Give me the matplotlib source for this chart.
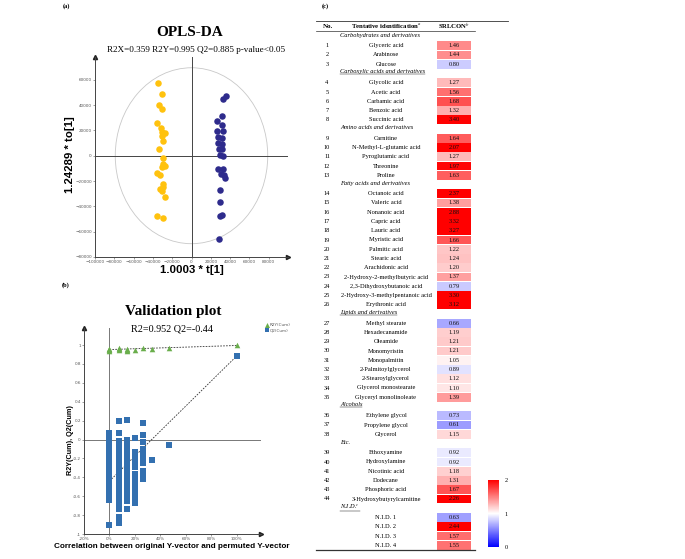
import numpy as np
import matplotlib
matplotlib.use("Agg")
import matplotlib.pyplot as plt
from matplotlib.patches import Ellipse
from matplotlib.colors import LinearSegmentedColormap, Normalize
from matplotlib.cm import ScalarMappable

plt.rcParams['mathtext.fontset'] = 'stix'
SERIF = 'Liberation Serif'
SANS = 'Liberation Sans'

# ---------------- data: OPLS-DA scores ----------------
srl_t = [-34500, -31000, -33800, -30300, -35500, -32100, -30300, -27900, -30700, -30000,
         -34100, -30000, -30000, -27900, -30300, -35500, -32800, -29700, -29300, -33100,
         -31000, -27900, -36200, -29300]
srl_to = [57100, 48900, 40300, 36600, 26100, 22100, 18700, 17900, 15300, 11600,
          5500, -1800, -6800, -7900, -9200, -13400, -15000, -22100, -24700, -26600,
          -27600, -32400, -47900, -48900]
con_t = [35500, 32400, 32100, 26900, 31400, 26900, 32400, 27600, 32100, 27600,
         32100, 28300, 31700, 30000, 32400, 27200, 32400, 30300, 33400, 34800,
         30000, 30000, 31700, 30000, 28300]
con_to = [47100, 44500, 31600, 27400, 24500, 19500, 19700, 14700, 13900, 10300,
          9500, 5500, 5000, 300, 0, -10300, -10300, -14700, -15000, -17400,
          -27400, -36800, -47100, -47900, -65800]

# ---------------- data: permutation validation ----------------
r2_x = [0, 0, 0, 0, 0.073, 0.073, 0.073, 0.135, 0.135, 0.135, 0.2, 0.266, 0.333, 0.466, 1.0]
r2_y = [0.94, 0.95, 0.955, 0.96, 0.95, 0.96, 0.97, 0.935, 0.95, 0.96, 0.95, 0.965, 0.96, 0.97, 0.995]
q2_col_x = [0, 0.073, 0.135, 0.2, 0.266, 0.333, 0.466, 1.0]
q2_col_y = [
    [0.07, 0.04, -0.02, -0.05, -0.08, -0.11, -0.14, -0.17, -0.2, -0.23, -0.26, -0.29, -0.32,
     -0.35, -0.38, -0.41, -0.44, -0.47, -0.5, -0.53, -0.56, -0.59, -0.64, -0.9],
    [0.2, 0.07, -0.02, -0.06, -0.1, -0.14, -0.18, -0.22, -0.26, -0.3, -0.34, -0.38, -0.42,
     -0.46, -0.5, -0.54, -0.58, -0.62, -0.66, -0.7, -0.74, -0.82, -0.85, -0.88],
    [0.21, -0.01, -0.05, -0.09, -0.13, -0.17, -0.21, -0.25, -0.29, -0.33, -0.37, -0.41,
     -0.45, -0.49, -0.53, -0.57, -0.61, -0.65, -0.74],
    [0.02, -0.13, -0.17, -0.21, -0.25, -0.29, -0.37, -0.41, -0.45, -0.49, -0.53, -0.57,
     -0.61, -0.67],
    [0.17, 0.05, -0.03, -0.1, -0.14, -0.18, -0.22, -0.25, -0.33, -0.36, -0.39, -0.42],
    [-0.22],
    [-0.06],
    [0.885],
]
r2_intercept, r2_end = 0.952, 0.995
q2_intercept, q2_end = -0.44, 0.885

# ---------------- data: table ----------------
groups = ["Carbohydrates and derivatives", "Carboxylic acids and derivatives",
          "Amino acids and derivatives", "Fatty acids and derivatives",
          "Lipids and derivatives", "Alcohols", "Etc.", "N.I.D."]
group_underline = [False, True, False, False, True, True, False, True]
group_sizes = [3, 5, 5, 13, 9, 3, 6, 4]
names = ["Glyceric acid", "Arabinose", "Glucose",
         "Glycolic acid", "Acetic acid", "Carbamic acid", "Benzoic acid", "Succinic acid",
         "Carnitine", "N-Methyl-L-glutamic acid", "Pyroglutamic acid", "Threonine", "Proline",
         "Octanoic acid", "Valeric acid", "Nonanoic acid", "Capric acid", "Lauric acid",
         "Myristic acid", "Palmitic acid", "Stearic acid", "Arachidonic acid",
         "2-Hydroxy-2-methylbutyric acid", "2,3-Dihydroxybutanoic acid",
         "2-Hydroxy-3-methylpentanoic acid", "Erythronic acid",
         "Methyl stearate", "Hexadecanamide", "Oleamide", "Monomyristin", "Monopalmitin",
         "2-Palmitoylglycerol", "2-Stearoylglycerol", "Glycerol monostearate",
         "Glyceryl monolinoleate",
         "Ethylene glycol", "Propylene glycol", "Glycerol",
         "Ethoxyamine", "Hydroxylamine", "Nicotinic acid", "Dodecane", "Phosphoric acid",
         "3-Hydroxybutyrylcarnitine",
         "N.I.D. 1", "N.I.D. 2", "N.I.D. 3", "N.I.D. 4"]
ratios = [1.46, 1.44, 0.80,
          1.27, 1.56, 1.68, 1.32, 3.40,
          1.64, 2.07, 1.27, 1.97, 1.63,
          2.37, 1.38, 2.88, 3.32, 3.27, 1.66, 1.22, 1.24, 1.20, 1.37, 0.79, 3.30, 3.12,
          0.66, 1.19, 1.21, 1.21, 1.05, 0.89, 1.12, 1.10, 1.39,
          0.73, 0.61, 1.15,
          0.92, 0.92, 1.18, 1.31, 1.67, 2.26,
          0.63, 2.44, 1.57, 1.55]
n_numbered = 44

fig = plt.figure(figsize=(6.85, 5.59), dpi=100)
W, H = 685, 559


def fx(px):
    return px / W


def fy(py):
    return 1 - py / H


def arrow_axes(ax):
    for s in ['top', 'right']:
        ax.spines[s].set_visible(False)
    for s in ['left', 'bottom']:
        ax.spines[s].set_color('#444444')
        ax.spines[s].set_linewidth(0.7)
    ax.plot(1, 0, '>', color='#222222', ms=3, transform=ax.transAxes, clip_on=False)
    ax.plot(0, 1, '^', color='#222222', ms=3, transform=ax.transAxes, clip_on=False)
    ax.tick_params(labelsize=3.0, labelcolor='#555555', length=1.5, width=0.4,
                   color='#555555', pad=0.8)


# ---------------- (a) OPLS-DA ----------------
ax1 = fig.add_axes([fx(95), fy(257), fx(288 - 95), fy(57) - fy(257)])
ax1.set_xlim(-100000, 100000)
ax1.set_ylim(-80000, 78000)
arrow_axes(ax1)
ax1.axhline(0, color='#444444', lw=0.7)
ax1.axvline(0, color='#444444', lw=0.7)
ax1.add_patch(Ellipse((0, 0), 2 * 79000, 2 * 69500, fill=False, ec='#c8c8c8', lw=0.6))
ax1.scatter(srl_t, srl_to, s=22, color='#FFC20E', zorder=3, linewidths=0)
ax1.scatter(con_t, con_to, s=22, color='#2E2B8C', zorder=3, linewidths=0)
ax1.set_xticks(np.arange(-100000, 80001, 20000))
ax1.set_yticks(np.arange(-80000, 60001, 20000))
fig.text(fx(66), fy(6), "(a)", fontsize=4.5, fontweight='bold', family=SERIF, ha='center', va='center')
fig.text(fx(190), fy(33), "OPLS-DA", fontsize=11, fontweight='bold', family=SERIF, ha='center', va='center')
fig.text(fx(196), fy(50), "R2X=0.359 R2Y=0.995 Q2=0.885 p-value<0.05", fontsize=6.6,
         family=SERIF, ha='center', va='center')
fig.text(fx(70), fy(155), "1.24289 * to[1]", fontsize=8.2, fontweight='bold', family=SANS,
         rotation=90, ha='center', va='center')
fig.text(fx(192), fy(270), "1.0003 * t[1]", fontsize=8.2, fontweight='bold', family=SANS,
         ha='center', va='center')

# ---------------- (b) Validation plot ----------------
ax2 = fig.add_axes([fx(84), fy(534), fx(261 - 84), fy(328) - fy(534)])
ax2.set_xlim(-0.18, 1.19)
ax2.set_ylim(-1, 1.18)
arrow_axes(ax2)
ax2.axhline(0, color='#777777', lw=0.7)
ax2.axvline(0, color='#777777', lw=0.7)
q2_x = [x for x, col in zip(q2_col_x, q2_col_y) for _ in col]
q2_y = [v for col in q2_col_y for v in col]
ax2.plot([0, 1], [r2_intercept, r2_end], ls=(0, (2, 1.5)), color='#333333', lw=0.6, zorder=2)
ax2.plot([0, 1], [q2_intercept, q2_end], ls=(0, (2, 1.5)), color='#333333', lw=0.6, zorder=2)
ax2.scatter(r2_x, r2_y, marker='^', s=16, color='#6AAE4C', linewidths=0, zorder=3, label='R2Y(Cum)')
ax2.scatter(q2_x, q2_y, marker='s', s=15, color='#3370B0', linewidths=0, zorder=3, label='Q2(Cum)')
ax2.set_xticks(np.arange(-0.2, 1.01, 0.2))
ax2.set_xticklabels(["-20%", "0%", "20%", "40%", "60%", "80%", "100%"])
ax2.set_xticks(np.arange(-0.1, 1.15, 0.1), minor=True)
ax2.tick_params(which='minor', length=1, width=0.3, color='#555555')
ax2.set_yticks(np.arange(-1, 1.01, 0.2))
ax2.set_yticklabels(["-1", "-0.8", "-0.6", "-0.4", "-0.2", "0", "0.2", "0.4", "0.6", "0.8", "1"])
ax2.legend(loc='upper left', bbox_to_anchor=(fx(264), fy(321)), bbox_transform=fig.transFigure,
           frameon=False, fontsize=3, handlelength=0.6, handletextpad=0.3, labelspacing=0.3,
           borderpad=0, markerscale=0.9, labelcolor='#555555')
fig.text(fx(66), fy(285), "(b)", fontsize=4.5, fontweight='bold', family=SERIF, ha='center', va='center')
fig.text(fx(173), fy(312), "Validation plot", fontsize=11, fontweight='bold', family=SERIF,
         ha='center', va='center')
fig.text(fx(172), fy(329), "R2=0.952 Q2=-0.44", fontsize=7.3, family=SERIF, ha='center', va='center')
fig.text(fx(70), fy(440), "R2Y(Cum), Q2(Cum)", fontsize=5.2, fontweight='bold', family=SANS,
         rotation=90, ha='center', va='center')
fig.text(fx(172), fy(547), "Correlation between original Y-vector and permuted Y-vector",
         fontsize=5.9, fontweight='bold', family=SANS, ha='center', va='center')

# ---------------- (c) table ----------------
cmap = LinearSegmentedColormap.from_list('bwr_srl', ['#0000FF', '#FFFFFF', '#FF0000'])
norm = Normalize(0, 2)

ax3 = fig.add_axes([0, 0, 1, 1], zorder=-1)
ax3.set_xlim(0, W)
ax3.set_ylim(H, 0)
ax3.axis('off')

y0, step = 36.5, 9.25
x_no, x_name, x_cat = 327, 386, 340
cell_l, cell_w = 437, 34
fs = 4.6

fig.text(fx(325), fy(6), "(c)", fontsize=4.5, fontweight='bold', family=SERIF, ha='center', va='center')
ax3.plot([316, 508], [21, 21], color='#333333', lw=0.6)
ax3.plot([316, 475], [31, 31], color='#333333', lw=0.5)
ax3.plot([316, 475], [549.5, 549.5], color='#333333', lw=0.9)
ax3.text(x_no - 4, 26, "No.", fontsize=5, fontweight='bold', family=SERIF, ha='left', va='center')
ax3.text(x_name, 26.5, r"Tentative identification$^{a}$", fontsize=4.8, fontweight='bold',
         family=SERIF, ha='center', va='center')
ax3.text(cell_l + cell_w / 2, 26.5, r"SRLCON$^{b}$", fontsize=4.8, fontweight='bold',
         family=SERIF, ha='center', va='center')

cat_texts = []
row_y = []
slot = 0
for g, ul, n in zip(groups, group_underline, group_sizes):
    label = g + (r"$^{c}$" if g == "N.I.D." else "")
    t = ax3.text(x_cat, y0 + slot * step - 1.5, label, fontsize=fs, style='italic', family=SERIF,
                 ha='left', va='center')
    cat_texts.append((t, ul))
    slot += 1
    for _ in range(n):
        row_y.append(y0 + slot * step)
        slot += 1

colors = [cmap(norm(v)) for v in ratios]
ax3.barh(row_y, [cell_w] * len(row_y), left=cell_l, height=step * 0.96, color=colors, linewidth=0)
for i, (yy, nm, v) in enumerate(zip(row_y, names, ratios)):
    if i < n_numbered:
        ax3.text(x_no, yy, str(i + 1), fontsize=fs, family=SERIF, ha='center', va='center')
    ax3.text(x_name, yy, nm, fontsize=fs, family=SERIF, ha='center', va='center')
    ax3.text(cell_l + cell_w / 2, yy, f"{v:.2f}", fontsize=fs, family=SERIF, ha='center',
             va='center', color='#111111')

# underline selected group captions
fig.canvas.draw()
renderer = fig.canvas.get_renderer()
inv = ax3.transData.inverted()
for t, ul in cat_texts:
    if not ul:
        continue
    bb = t.get_window_extent(renderer)
    (xa, ya), (xb, yb) = inv.transform([(bb.x0, bb.y0), (bb.x1, bb.y1)])
    ax3.plot([xa, xb], [ya - 0.3, ya - 0.3], color='#222222', lw=0.35)

# colour scale
cax = fig.add_axes([fx(488), fy(547), fx(11), fy(480) - fy(547)])
cb = fig.colorbar(ScalarMappable(norm=norm, cmap=cmap), cax=cax)
cb.outline.set_visible(False)
cb.set_ticks([0, 1, 2])
cb.ax.tick_params(length=0, labelsize=4.5, pad=4)
for lab in cb.ax.get_yticklabels():
    lab.set_family(SERIF)

fig.savefig("out.png", dpi=100)
